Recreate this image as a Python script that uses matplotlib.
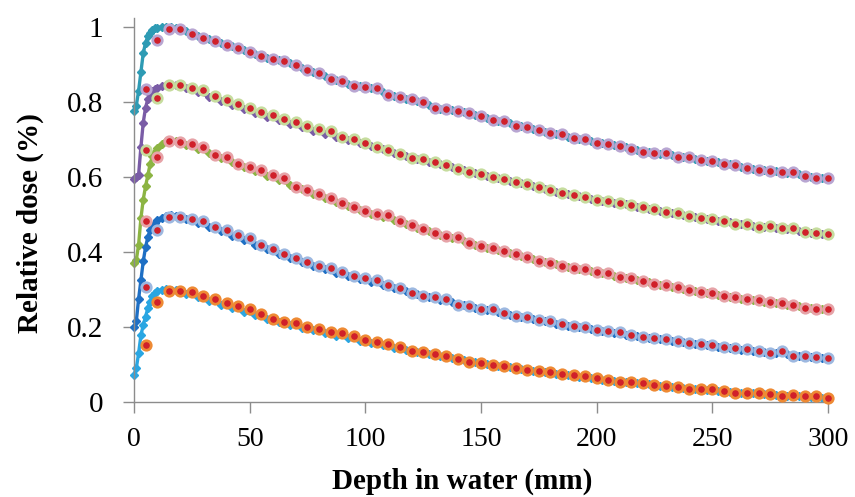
import matplotlib
matplotlib.use("Agg")
import matplotlib.pyplot as plt

# depth grids (mm)
MEAS_DEPTH = [0, 1, 2, 3, 4, 5, 6, 7, 8, 9, 10, 12, 14, 16, 18, 20,
              22.5, 27.5, 32.5, 37.5, 42.5, 47.5, 52.5, 57.5, 62.5, 67.5,
              72.5, 77.5, 82.5, 87.5, 92.5, 97.5, 102.5, 107.5, 112.5, 117.5,
              122.5, 127.5, 132.5, 137.5, 142.5, 147.5, 152.5, 157.5, 162.5, 167.5,
              172.5, 177.5, 182.5, 187.5, 192.5, 197.5, 202.5, 207.5, 212.5, 217.5,
              222.5, 227.5, 232.5, 237.5, 242.5, 247.5, 252.5, 257.5, 262.5, 267.5,
              272.5, 277.5, 282.5, 287.5, 292.5, 297.5, 300]
CALC_DEPTH = [5, 10, 15, 20, 25, 30, 35, 40, 45, 50, 55, 60, 65, 70, 75, 80,
              85, 90, 95, 100, 105, 110, 115, 120, 125, 130, 135, 140, 145, 150,
              155, 160, 165, 170, 175, 180, 185, 190, 195, 200, 205, 210, 215, 220,
              225, 230, 235, 240, 245, 250, 255, 260, 265, 270, 275, 280, 285, 290,
              295, 300]

# measured curves (diamonds)
meas_1 = [0.775, 0.79, 0.83, 0.88, 0.93, 0.958, 0.975, 0.985, 0.992, 0.996, 0.998, 1.0, 1.0, 0.999, 0.997, 0.993,
          0.988, 0.976, 0.967, 0.958, 0.949, 0.938, 0.927, 0.918, 0.911, 0.904,
          0.891, 0.880, 0.869, 0.858, 0.849, 0.842, 0.838, 0.827, 0.815, 0.809,
          0.803, 0.791, 0.782, 0.779, 0.773, 0.766, 0.757, 0.750, 0.743, 0.735,
          0.729, 0.721, 0.716, 0.708, 0.702, 0.696, 0.690, 0.686, 0.680, 0.672,
          0.666, 0.662, 0.658, 0.654, 0.649, 0.644, 0.639, 0.634, 0.627, 0.621,
          0.618, 0.615, 0.612, 0.607, 0.600, 0.597, 0.595]
meas_2 = [0.595, 0.600, 0.606, 0.68, 0.745, 0.785, 0.808, 0.822, 0.830, 0.835, 0.838, 0.842, 0.845, 0.846, 0.845, 0.842,
          0.836, 0.826, 0.814, 0.802, 0.791, 0.781, 0.770, 0.760, 0.751, 0.742,
          0.733, 0.724, 0.716, 0.708, 0.699, 0.691, 0.683, 0.674, 0.665, 0.656,
          0.649, 0.641, 0.634, 0.626, 0.618, 0.610, 0.603, 0.597, 0.590, 0.583,
          0.576, 0.569, 0.561, 0.555, 0.549, 0.542, 0.537, 0.532, 0.527, 0.521,
          0.516, 0.510, 0.504, 0.499, 0.494, 0.489, 0.484, 0.479, 0.474, 0.470,
          0.467, 0.464, 0.461, 0.456, 0.451, 0.447, 0.445]
meas_3 = [0.37, 0.378, 0.42, 0.49, 0.54, 0.575, 0.605, 0.635, 0.655, 0.668, 0.677, 0.689, 0.695, 0.697, 0.696, 0.692,
          0.685, 0.674, 0.663, 0.651, 0.639, 0.627, 0.615, 0.604, 0.592, 0.579,
          0.567, 0.556, 0.545, 0.534, 0.523, 0.512, 0.502, 0.493, 0.485, 0.475,
          0.465, 0.455, 0.446, 0.438, 0.430, 0.420, 0.412, 0.405, 0.397, 0.390,
          0.382, 0.374, 0.367, 0.360, 0.354, 0.349, 0.343, 0.337, 0.331, 0.325,
          0.319, 0.313, 0.308, 0.302, 0.296, 0.291, 0.286, 0.281, 0.276, 0.272,
          0.268, 0.264, 0.260, 0.255, 0.251, 0.248, 0.246]
meas_4 = [0.20, 0.215, 0.275, 0.325, 0.375, 0.413, 0.440, 0.458, 0.470, 0.478, 0.485, 0.492, 0.496, 0.498, 0.497, 0.494,
          0.488, 0.478, 0.466, 0.455, 0.444, 0.432, 0.420, 0.408, 0.396, 0.385,
          0.374, 0.364, 0.354, 0.345, 0.336, 0.328, 0.320, 0.311, 0.303, 0.295,
          0.287, 0.280, 0.273, 0.266, 0.258, 0.251, 0.245, 0.239, 0.233, 0.227,
          0.221, 0.215, 0.209, 0.204, 0.199, 0.194, 0.189, 0.185, 0.180, 0.175,
          0.171, 0.167, 0.163, 0.159, 0.155, 0.151, 0.148, 0.144, 0.140, 0.137,
          0.134, 0.131, 0.127, 0.124, 0.121, 0.118, 0.116]
meas_5 = [0.072, 0.09, 0.13, 0.178, 0.205, 0.228, 0.25, 0.268, 0.282, 0.290, 0.295, 0.300, 0.301, 0.300, 0.298, 0.295,
          0.289, 0.280, 0.270, 0.260, 0.250, 0.240, 0.231, 0.222, 0.213, 0.205,
          0.198, 0.191, 0.184, 0.177, 0.170, 0.163, 0.157, 0.151, 0.145, 0.139,
          0.133, 0.128, 0.122, 0.117, 0.112, 0.107, 0.102, 0.097, 0.093, 0.088,
          0.084, 0.080, 0.076, 0.072, 0.068, 0.064, 0.060, 0.057, 0.053, 0.050,
          0.047, 0.044, 0.041, 0.038, 0.035, 0.032, 0.030, 0.027, 0.025, 0.023,
          0.021, 0.019, 0.017, 0.015, 0.013, 0.011, 0.010]

# calculated curves (circles)
calc_1 = [0.834, 0.964, 0.994, 0.995, 0.981, 0.971, 0.963, 0.953, 0.945, 0.932, 0.922, 0.914, 0.910, 0.898, 0.884, 0.876,
          0.862, 0.855, 0.843, 0.841, 0.836, 0.819, 0.812, 0.807, 0.800, 0.783, 0.781, 0.777, 0.770, 0.763,
          0.752, 0.749, 0.737, 0.733, 0.725, 0.718, 0.714, 0.703, 0.701, 0.692, 0.689, 0.684, 0.676, 0.668,
          0.663, 0.663, 0.654, 0.654, 0.645, 0.643, 0.636, 0.632, 0.623, 0.620, 0.617, 0.613, 0.614, 0.603,
          0.598, 0.597]
calc_2 = [0.672, 0.810, 0.845, 0.845, 0.836, 0.831, 0.817, 0.804, 0.795, 0.784, 0.772, 0.765, 0.755, 0.747, 0.735, 0.728,
          0.722, 0.707, 0.702, 0.691, 0.681, 0.672, 0.661, 0.652, 0.649, 0.639, 0.632, 0.622, 0.614, 0.607,
          0.601, 0.596, 0.588, 0.581, 0.574, 0.565, 0.558, 0.553, 0.548, 0.539, 0.536, 0.532, 0.525, 0.521,
          0.515, 0.506, 0.503, 0.497, 0.490, 0.488, 0.483, 0.475, 0.475, 0.468, 0.469, 0.465, 0.463, 0.454,
          0.450, 0.447]
calc_3 = [0.484, 0.654, 0.697, 0.694, 0.688, 0.681, 0.660, 0.654, 0.636, 0.628, 0.618, 0.605, 0.597, 0.573, 0.565, 0.555,
          0.543, 0.532, 0.520, 0.509, 0.501, 0.500, 0.483, 0.472, 0.461, 0.452, 0.442, 0.439, 0.425, 0.417,
          0.410, 0.403, 0.394, 0.388, 0.377, 0.372, 0.364, 0.357, 0.354, 0.346, 0.343, 0.334, 0.330, 0.323,
          0.315, 0.312, 0.306, 0.300, 0.293, 0.290, 0.283, 0.281, 0.274, 0.272, 0.268, 0.263, 0.259, 0.252,
          0.248, 0.248]
calc_4 = [0.307, 0.459, 0.494, 0.494, 0.489, 0.482, 0.468, 0.458, 0.445, 0.438, 0.418, 0.409, 0.394, 0.384, 0.373, 0.363,
          0.357, 0.348, 0.337, 0.331, 0.325, 0.312, 0.305, 0.290, 0.284, 0.281, 0.276, 0.260, 0.257, 0.247,
          0.247, 0.238, 0.229, 0.226, 0.220, 0.216, 0.207, 0.203, 0.199, 0.192, 0.189, 0.186, 0.179, 0.174,
          0.170, 0.167, 0.164, 0.158, 0.154, 0.152, 0.148, 0.143, 0.141, 0.137, 0.132, 0.136, 0.124, 0.124,
          0.121, 0.118]
calc_5 = [0.152, 0.266, 0.297, 0.297, 0.293, 0.284, 0.275, 0.264, 0.255, 0.249, 0.234, 0.222, 0.213, 0.212, 0.200, 0.196,
          0.188, 0.183, 0.175, 0.165, 0.161, 0.156, 0.146, 0.137, 0.134, 0.128, 0.124, 0.116, 0.108, 0.105,
          0.099, 0.097, 0.090, 0.085, 0.083, 0.081, 0.076, 0.072, 0.069, 0.063, 0.059, 0.054, 0.053, 0.050,
          0.045, 0.043, 0.039, 0.036, 0.034, 0.034, 0.029, 0.023, 0.023, 0.023, 0.021, 0.017, 0.018, 0.017,
          0.015, 0.010]

MEASURED = [meas_1, meas_2, meas_3, meas_4, meas_5]
CALCULATED = [calc_1, calc_2, calc_3, calc_4, calc_5]
MEAS_COLORS = ['#2E9BB4', '#7A5CA6', '#8CB443', '#1E6FC4', '#2AA6E2']
RING_COLORS = ['#B8A6D2', '#C6DC9E', '#E6A3A8', '#9DB8E0', '#EE8A34']
CORE_COLOR = '#D0202A'
SERIF = 'Liberation Serif'


def main():
    fig = plt.figure(figsize=(8.55, 4.97), dpi=100)
    ax = fig.add_axes([0.1567, 0.1911, 0.8117, 0.7727])

    for meas, calc, mc, rc in zip(MEASURED, CALCULATED, MEAS_COLORS, RING_COLORS):
        ax.plot(MEAS_DEPTH, meas, color=mc, lw=2.4, marker='D', ms=3.8,
                mfc=mc, mec=mc, clip_on=False, zorder=2)
        ax.plot(CALC_DEPTH, calc, ls='none', marker='o', ms=6.8,
                mfc=CORE_COLOR, mec=rc, mew=2.0, clip_on=False, zorder=3)

    ax.set_xlim(0, 300)
    ax.set_ylim(0, 1.024)
    ax.set_xticks([0, 50, 100, 150, 200, 250, 300])
    ax.set_yticks([0, 0.2, 0.4, 0.6, 0.8, 1.0])
    ax.set_yticklabels(['0', '0.2', '0.4', '0.6', '0.8', '1'])

    for side in ['top', 'right']:
        ax.spines[side].set_visible(False)
    for side in ['left', 'bottom']:
        ax.spines[side].set_color('#8C8C8C')
        ax.spines[side].set_linewidth(1.0)

    ax.tick_params(axis='both', direction='out', length=8, width=1.0,
                   color='#8C8C8C')
    ax.tick_params(axis='x', pad=10, labelsize=20)
    ax.tick_params(axis='y', pad=14, labelsize=21)
    for lab in ax.get_xticklabels() + ax.get_yticklabels():
        lab.set_fontfamily(SERIF)

    ax.set_xlabel('Depth in water (mm)', fontfamily=SERIF,
                  fontweight='bold', fontsize=21)
    ax.xaxis.label.set_va('center')
    ax.xaxis.set_label_coords(0.4726, -0.206)
    ax.set_ylabel('Relative dose (%)', fontfamily=SERIF,
                  fontweight='bold', fontsize=21)
    ax.yaxis.label.set_va('center')
    ax.yaxis.set_label_coords(-0.150, 0.466)

    fig.savefig('out.png', dpi=100)


if __name__ == "__main__":
    main()
